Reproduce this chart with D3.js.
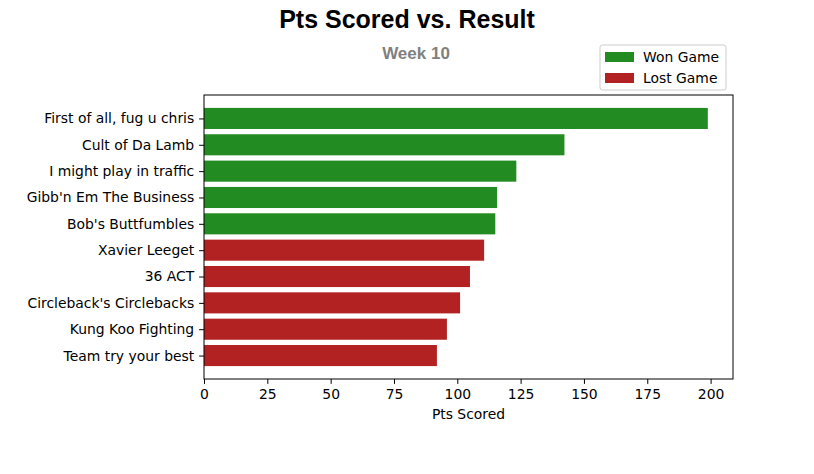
<!DOCTYPE html>
<html>
<head>
<meta charset="utf-8">
<script src="https://cdn.jsdelivr.net/npm/d3@7"></script>
<style>
  body { margin: 0; background: #fff; }
</style>
</head>
<body>
<script>
// data, top bar first
var teams = ["First of all, fug u chris", "Cult of Da Lamb", "I might play in traffic",
  "Gibb'n Em The Business", "Bob's Buttfumbles", "Xavier Leeget", "36 ACT",
  "Circleback's Circlebacks", "Kung Koo Fighting", "Team try your best"];
var points = [198.9, 142.3, 123.3, 115.7, 115.0, 110.6, 105.0, 101.1, 95.9, 91.95];
var results = ["W", "W", "W", "W", "W", "L", "L", "L", "L", "L"];
var xTicks = [0, 25, 50, 75, 100, 125, 150, 175, 200];
var legendLabels = ["Won Game", "Lost Game"];

var colors = { W: "#228b22", L: "#b22222" };
var font = "DejaVu Sans, sans-serif";
var titleFont = "Liberation Sans, Arial, sans-serif";

var width = 814, height = 474;
var margins = { top: 95, bottom: 95, left: 204, right: 81 };

var svg = d3.select("body").append("svg")
  .attr("width", width)
  .attr("height", height)
  .style("font-family", font);

var plotWidth = width - margins.left - margins.right;
var plotHeight = height - margins.top - margins.bottom;

var xScale = d3.scaleLinear()
  .domain([0, d3.max(points) * 1.05])
  .range([0, plotWidth]);

// index 0 at top, matplotlib-like padding
var n = teams.length;
var yScale = d3.scaleLinear()
  .domain([-0.89, n - 1 + 0.89])
  .range([0, plotHeight]);

var plot = svg.append("g")
  .attr("transform", "translate(" + margins.left + "," + margins.top + ")");

plot.selectAll("rect.bar")
  .data(points)
  .enter().append("rect")
  .attr("class", "bar")
  .attr("x", xScale(0))
  .attr("y", function(d, i) { return yScale(i - 0.4); })
  .attr("width", function(d) { return xScale(d) - xScale(0); })
  .attr("height", yScale(0.4) - yScale(-0.4))
  .attr("fill", function(d, i) { return colors[results[i]]; });

// frame
plot.append("rect")
  .attr("width", plotWidth)
  .attr("height", plotHeight)
  .attr("fill", "none")
  .attr("stroke", "#000")
  .attr("stroke-width", 1);

var xAxis = d3.axisBottom(xScale).tickValues(xTicks).tickSize(4.9).tickPadding(4.9);
var xg = plot.append("g")
  .attr("transform", "translate(0," + plotHeight + ")")
  .call(xAxis);
xg.select(".domain").remove();
xg.selectAll("text").style("font-size", "13.9px").style("font-family", font).attr("fill", "#000");

var yAxis = d3.axisLeft(yScale).tickValues(d3.range(n))
  .tickFormat(function(d) { return teams[d]; })
  .tickSize(4.9).tickPadding(4.9);
var yg = plot.append("g").call(yAxis);
yg.select(".domain").remove();
yg.selectAll("text").style("font-size", "13.9px").style("font-family", font).attr("fill", "#000");

plot.append("text")
  .attr("x", plotWidth / 2)
  .attr("y", plotHeight + 40)
  .attr("text-anchor", "middle")
  .style("font-size", "13.9px")
  .text("Pts Scored");

// titles
svg.append("text")
  .attr("x", 407)
  .attr("y", 28)
  .attr("text-anchor", "middle")
  .style("font-family", titleFont)
  .style("font-weight", "bold")
  .style("font-size", "25px")
  .text("Pts Scored vs. Result");

svg.append("text")
  .attr("x", 416)
  .attr("y", 59)
  .attr("text-anchor", "middle")
  .style("font-family", titleFont)
  .style("font-weight", "bold")
  .style("font-size", "17px")
  .attr("fill", "#808080")
  .text("Week 10");

// legend
var legend = svg.append("g").attr("transform", "translate(600,45)");
legend.append("rect")
  .attr("width", 126).attr("height", 45)
  .attr("rx", 2.5)
  .attr("fill", "#fff")
  .attr("stroke", "#ccc");
legendLabels.forEach(function(d, i) {
  legend.append("rect")
    .attr("x", 5).attr("y", 7 + i * 21)
    .attr("width", 29).attr("height", 10)
    .attr("fill", i == 0 ? colors.W : colors.L);
  legend.append("text")
    .attr("x", 43).attr("y", 16.5 + i * 21)
    .style("font-size", "13.9px")
    .text(d);
});
</script>
</body>
</html>
